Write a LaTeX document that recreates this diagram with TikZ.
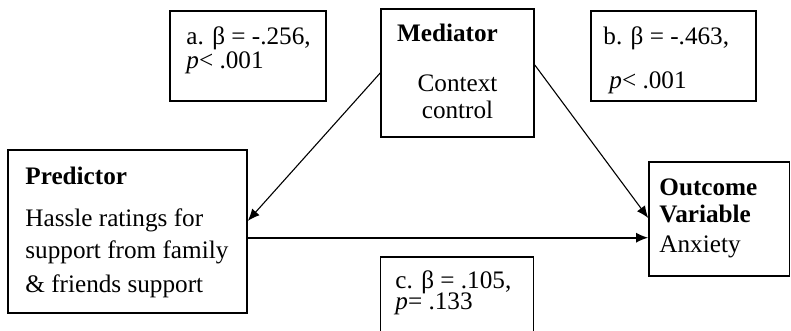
\documentclass[tikz,border=0pt]{standalone}
\usepackage{fontspec}
\setmainfont{Liberation Serif}
\usetikzlibrary{arrows.meta}
\tikzstyle{varbox} = [draw=black, line width=0.8pt, rectangle, inner sep=0pt]
\tikzstyle{boxtext} = [anchor=north west, inner sep=0pt, align=left, font=\fontsize{12.6}{12}\selectfont]
\tikzstyle{link} = [-{Latex[length=6pt,width=5pt]}, line width=0.55pt]
\begin{document}
\begin{tikzpicture}[x=0.5pt, y=-0.5pt]
\useasboundingbox (0,0) rectangle (791,331);
% boxes
\node [varbox, minimum width=78pt, minimum height=45pt] (abox) at (248,56) {};
\node [varbox, minimum width=76.5pt, minimum height=64pt] (med) at (457.5,73) {};
\node [varbox, minimum width=82.5pt, minimum height=45pt] (bbox) at (673.5,56) {};
\node [varbox, minimum width=119.5pt, minimum height=81.5pt] (pred) at (127.5,231.5) {};
\node [varbox, minimum width=70.25pt, minimum height=57pt] (out) at (719.25,219) {};
\node [varbox, minimum width=76.5pt, minimum height=44pt] (cbox) at (457,301) {};
% texts
\node [boxtext] (atext) at (186,26.2) {\strut a. β = -.256,\\\strut\textit{p}< .001};
\node [boxtext, anchor=north, align=center] (medtext) at (457.5,23.2)
  {\strut\textbf{Mediator}\hspace*{10pt}\\[13.3pt]\strut Context\\\strut control};
\node [boxtext] (btext) at (603,26.2) {\strut b. β = -.463,\\[10pt]\strut\hspace{3pt}\textit{p}< .001};
\node [boxtext] (predtext) at (25,166.2)
  {\strut\textbf{Predictor}\\[7.5pt]\strut Hassle ratings for\\[3pt]\strut support from family\\[3.5pt]\strut\& friends support};
\node [boxtext] (outtext) at (659,178.2) {\strut\textbf{Outcome}\\\strut\textbf{Variable}\\[3pt]\strut Anxiety};
\node [boxtext] (ctext) at (395,270.2) {\strut c. β = .105,\\[-1.5pt]\strut\textit{p}= .133};
% paths
\draw [link] (med.west) -- ([yshift=5.3pt]pred.east);
\draw [link] ([yshift=4pt]med.east) -- ([yshift=0.5pt]out.west);
\draw [link, line width=0.8pt] ([yshift=-3.1pt]pred.east) -- ([yshift=-3.1pt]pred.east -| out.west);
\end{tikzpicture}
\end{document}
